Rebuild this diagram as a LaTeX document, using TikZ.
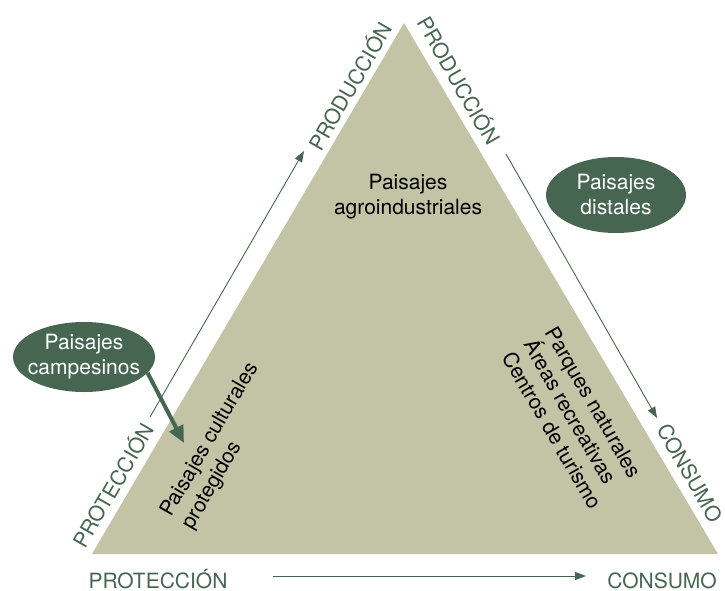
\documentclass[tikz,border=0pt]{standalone}
\usepackage{fontspec}
\setmainfont{TeX Gyre Heros}
\usepackage[dvipsnames]{xcolor}
\usepackage{tikz}
\usetikzlibrary{arrows.meta,shapes.geometric,positioning}
\definecolor{paisajeverde}{RGB}{70,102,82}
\definecolor{paisajefondo}{RGB}{195,196,166}

\begin{document}
\begin{tikzpicture}[
    % 以像素為單位 (y 向下)
    x=1pt, y=-1pt,
    font=\fontsize{21}{25}\selectfont,
    % --- 定義節點樣式 ---
    % 橢圓節點樣式
    elip/.style={
        ellipse,
        fill=paisajeverde,
        text=white,
        align=center,
        inner xsep=-6pt,
        inner ysep=0pt
    },
    % 綠色標籤樣式
    etiq/.style={
        text=paisajeverde,
        inner sep=0pt
    },
    % 三角形內文字樣式
    dentro/.style={
        text=black,
        inner sep=0pt
    },
    % 細箭頭樣式
    flecha/.style={draw=paisajeverde, line width=0.9pt, -{Triangle[length=11pt,width=8pt]}},
    % 粗箭頭樣式
    gruesa/.style={draw=paisajeverde, line width=4pt, -{Triangle[length=17pt,width=15pt]}}
]
\useasboundingbox (0,0) rectangle (725,591);

% --- 繪製三角形 ---
\coordinate (cima) at (404,23);
\coordinate (izq) at (92,554);
\coordinate (der) at (718,554);
\fill[paisajefondo] (cima) -- (izq) -- (der) -- cycle;

% 三角形內文字
\node[dentro, align=center] (agro) at (408,197) {Paisajes\\agroindustriales};
\node[dentro, align=left, rotate=60] (cultural) at (221,446) {Paisajes culturales\\protegidos};
\node[dentro, align=left, rotate=-60] (parques) at (574,418) {Parques naturales\\Áreas recreativas\\Centros de turismo};

% 邊上的標籤
\node[etiq, rotate=60] (protIzq) at (112,485) {PROTECCIÓN};
\node[etiq, rotate=60] (prodIzq) at (349,86) {PRODUCCIÓN};
\node[etiq, rotate=-60] (prodDer) at (460,80) {PRODUCCIÓN};
\node[etiq, rotate=-60] (consDer) at (690,473) {CONSUMO};
\node[etiq, anchor=base] (protAbajo) at (158,588) {PROTECCIÓN};
\node[etiq, anchor=base] (consAbajo) at (662,588) {CONSUMO};

% 橢圓
\node[elip, minimum width=142pt, minimum height=70pt] (campesinos) at (84,357) {Paisajes\\campesinos};
\node[elip, minimum width=140pt, minimum height=76pt] (distales) at (616,195) {Paisajes\\distales};

% --- 箭頭 ---
\coordinate (izqIni) at (150,417);
\coordinate (izqFin) at (304,151);
\coordinate (derIni) at (506,154);
\coordinate (derFin) at (657,418);
\coordinate (abajoIni) at (273,576);
\coordinate (abajoFin) at (586,576);
\coordinate (punta) at (184,443);
\draw[flecha] (izqIni) -- (izqFin);
\draw[flecha] (derIni) -- (derFin);
\draw[flecha] (abajoIni) -- (abajoFin);
\draw[gruesa] (campesinos.-14) -- (punta);

\end{tikzpicture}
\end{document}
